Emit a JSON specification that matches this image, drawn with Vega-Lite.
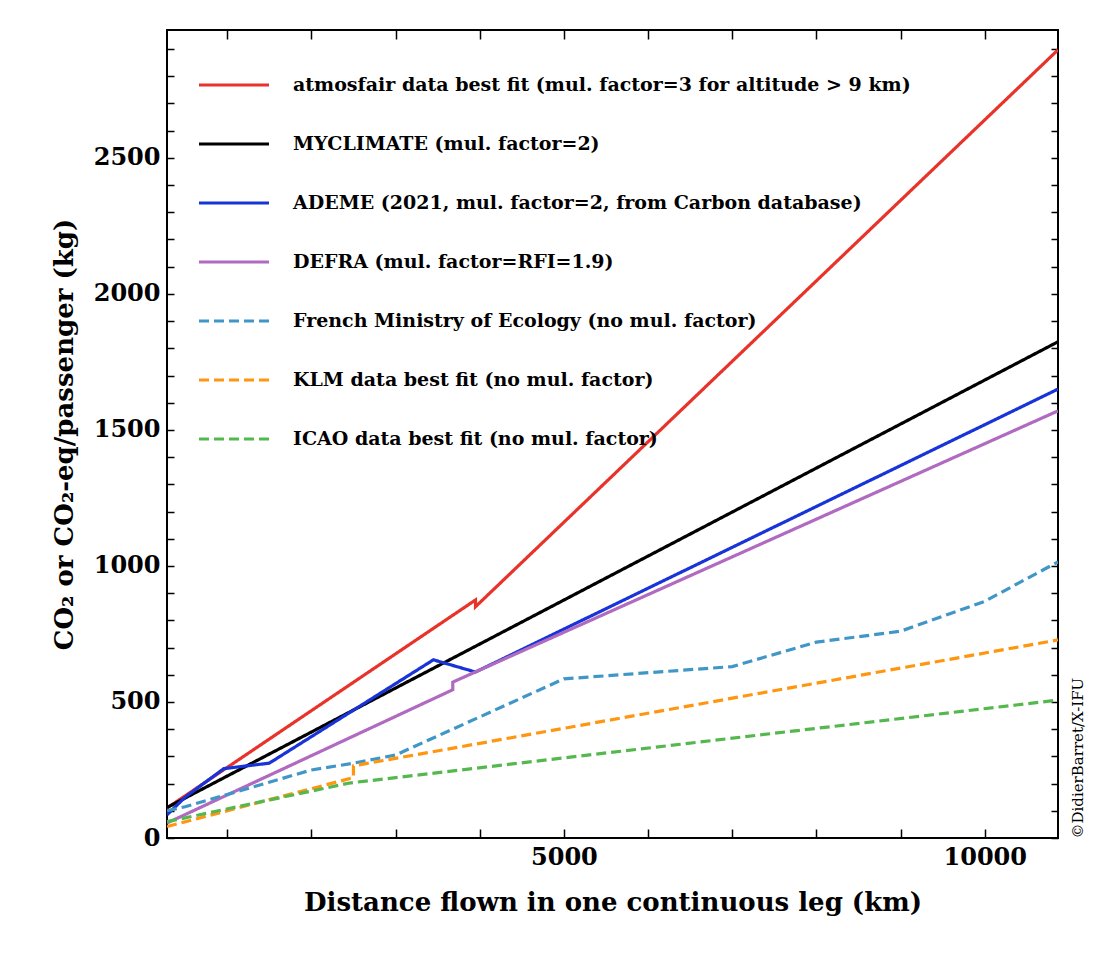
{
  "$schema": "https://vega.github.io/schema/vega-lite/v6.json",
  "width": 891,
  "height": 808,
  "autosize": "none",
  "padding": {"left": 167, "top": 30, "right": 50, "bottom": 122},
  "resolve": {"axis": {"x": "independent", "y": "independent"}},
  "config": {
    "font": "DejaVu Serif",
    "view": {"stroke": "black", "strokeWidth": 2},
    "axis": {"labelFont": "DejaVu Serif", "labelFontWeight": "bold", "labelFontSize": 24, "titleFont": "DejaVu Serif", "titleFontWeight": "bold", "titleFontSize": 26, "grid": false, "domain": false, "tickColor": "black", "tickWidth": 1.5, "labelColor": "black", "titleColor": "black"}
  },
  "data": {"values": [
    {"s": "atmosfair data best fit (mul. factor=3 for altitude > 9 km)", "i": 1, "d": 285, "v": 110},
    {"s": "atmosfair data best fit (mul. factor=3 for altitude > 9 km)", "i": 2, "d": 3950, "v": 875},
    {"s": "atmosfair data best fit (mul. factor=3 for altitude > 9 km)", "i": 3, "d": 3950, "v": 850},
    {"s": "atmosfair data best fit (mul. factor=3 for altitude > 9 km)", "i": 4, "d": 10870, "v": 2897},
    {"s": "MYCLIMATE (mul. factor=2)", "i": 1, "d": 285, "v": 112},
    {"s": "MYCLIMATE (mul. factor=2)", "i": 2, "d": 10870, "v": 1824},
    {"s": "ADEME (2021, mul. factor=2, from Carbon database)", "i": 1, "d": 285, "v": 85},
    {"s": "ADEME (2021, mul. factor=2, from Carbon database)", "i": 2, "d": 500, "v": 150},
    {"s": "ADEME (2021, mul. factor=2, from Carbon database)", "i": 3, "d": 960, "v": 255},
    {"s": "ADEME (2021, mul. factor=2, from Carbon database)", "i": 4, "d": 1500, "v": 275},
    {"s": "ADEME (2021, mul. factor=2, from Carbon database)", "i": 5, "d": 3450, "v": 655},
    {"s": "ADEME (2021, mul. factor=2, from Carbon database)", "i": 6, "d": 3950, "v": 610},
    {"s": "ADEME (2021, mul. factor=2, from Carbon database)", "i": 7, "d": 10870, "v": 1650},
    {"s": "DEFRA (mul. factor=RFI=1.9)", "i": 1, "d": 285, "v": 55},
    {"s": "DEFRA (mul. factor=RFI=1.9)", "i": 2, "d": 3680, "v": 545},
    {"s": "DEFRA (mul. factor=RFI=1.9)", "i": 3, "d": 3680, "v": 573},
    {"s": "DEFRA (mul. factor=RFI=1.9)", "i": 4, "d": 10870, "v": 1570},
    {"s": "French Ministry of Ecology (no mul. factor)", "i": 1, "d": 285, "v": 100},
    {"s": "French Ministry of Ecology (no mul. factor)", "i": 2, "d": 500, "v": 115},
    {"s": "French Ministry of Ecology (no mul. factor)", "i": 3, "d": 1000, "v": 160},
    {"s": "French Ministry of Ecology (no mul. factor)", "i": 4, "d": 1500, "v": 205},
    {"s": "French Ministry of Ecology (no mul. factor)", "i": 5, "d": 2000, "v": 250},
    {"s": "French Ministry of Ecology (no mul. factor)", "i": 6, "d": 2500, "v": 275},
    {"s": "French Ministry of Ecology (no mul. factor)", "i": 7, "d": 3000, "v": 305},
    {"s": "French Ministry of Ecology (no mul. factor)", "i": 8, "d": 4000, "v": 445},
    {"s": "French Ministry of Ecology (no mul. factor)", "i": 9, "d": 5000, "v": 585},
    {"s": "French Ministry of Ecology (no mul. factor)", "i": 10, "d": 7000, "v": 630},
    {"s": "French Ministry of Ecology (no mul. factor)", "i": 11, "d": 8000, "v": 720},
    {"s": "French Ministry of Ecology (no mul. factor)", "i": 12, "d": 9000, "v": 760},
    {"s": "French Ministry of Ecology (no mul. factor)", "i": 13, "d": 10000, "v": 870},
    {"s": "French Ministry of Ecology (no mul. factor)", "i": 14, "d": 10870, "v": 1015},
    {"s": "KLM data best fit (no mul. factor)", "i": 1, "d": 285, "v": 42},
    {"s": "KLM data best fit (no mul. factor)", "i": 2, "d": 2500, "v": 222},
    {"s": "KLM data best fit (no mul. factor)", "i": 3, "d": 2500, "v": 265},
    {"s": "KLM data best fit (no mul. factor)", "i": 4, "d": 10870, "v": 728},
    {"s": "ICAO data best fit (no mul. factor)", "i": 1, "d": 285, "v": 60},
    {"s": "ICAO data best fit (no mul. factor)", "i": 2, "d": 2450, "v": 202},
    {"s": "ICAO data best fit (no mul. factor)", "i": 3, "d": 10870, "v": 507}
  ]},
  "layer": [
    {
      "mark": {"type": "line", "strokeWidth": 3.2, "clip": true},
      "encoding": {
        "x": {"field": "d", "type": "quantitative", "scale": {"domain": [285, 10870], "nice": false, "zero": false},
          "title": "Distance flown in one continuous leg (km)",
          "axis": {"orient": "bottom", "values": [1000, 2000, 3000, 4000, 5000, 6000, 7000, 8000, 9000, 10000], "labelExpr": "datum.value % 5000 == 0 ? datum.value : ''", "tickSize": -9, "labelPadding": 16, "titlePadding": 20}},
        "y": {"field": "v", "type": "quantitative", "scale": {"domain": [0, 2970], "nice": false},
          "title": "CO₂ or CO₂-eq/passenger (kg)",
          "axis": {"orient": "left", "values": [0,100,200,300,400,500,600,700,800,900,1000,1100,1200,1300,1400,1500,1600,1700,1800,1900,2000,2100,2200,2300,2400,2500,2600,2700,2800,2900], "labelExpr": "datum.value % 500 == 0 ? datum.value : ''", "tickSize": -7, "labelPadding": 14, "titlePadding": 16}},
        "order": {"field": "i", "type": "quantitative"},
        "color": {"field": "s", "type": "nominal", "title": null,
          "scale": {"domain": ["atmosfair data best fit (mul. factor=3 for altitude > 9 km)", "MYCLIMATE (mul. factor=2)", "ADEME (2021, mul. factor=2, from Carbon database)", "DEFRA (mul. factor=RFI=1.9)", "French Ministry of Ecology (no mul. factor)", "KLM data best fit (no mul. factor)", "ICAO data best fit (no mul. factor)"],
            "range": ["#e8332a", "#000000", "#1834d8", "#b06ac0", "#4196c8", "#ff9610", "#55b84f"]},
          "legend": {"orient": "none", "legendX": 30, "legendY": 18, "symbolType": "stroke", "symbolStrokeWidth": 3.2, "symbolSize": 4900, "labelFont": "DejaVu Serif", "labelFontWeight": "bold", "labelFontSize": 19, "labelLimit": 900, "rowPadding": 12, "labelOffset": 22}},
        "strokeDash": {"field": "s", "type": "nominal", "title": null,
          "scale": {"domain": ["atmosfair data best fit (mul. factor=3 for altitude > 9 km)", "MYCLIMATE (mul. factor=2)", "ADEME (2021, mul. factor=2, from Carbon database)", "DEFRA (mul. factor=RFI=1.9)", "French Ministry of Ecology (no mul. factor)", "KLM data best fit (no mul. factor)", "ICAO data best fit (no mul. factor)"],
            "range": [[1, 0], [1, 0], [1, 0], [1, 0], [10, 5], [10, 5], [10, 5]]}}
      }
    },
    {
      "mark": {"type": "point", "opacity": 0},
      "encoding": {
        "x": {"field": "d", "type": "quantitative", "axis": {"orient": "top", "values": [1000, 2000, 3000, 4000, 5000, 6000, 7000, 8000, 9000, 10000], "labels": false, "tickSize": -9, "title": null}},
        "y": {"field": "v", "type": "quantitative", "axis": {"orient": "right", "values": [0,100,200,300,400,500,600,700,800,900,1000,1100,1200,1300,1400,1500,1600,1700,1800,1900,2000,2100,2200,2300,2400,2500,2600,2700,2800,2900], "labels": false, "tickSize": -7, "title": "©DidierBarret/X-IFU", "titleAngle": 270, "titleFontSize": 15, "titleFontWeight": "normal", "titleAlign": "left", "titleAnchor": "start", "titlePadding": 12, "titleBaseline": "top"}}
      }
    }
  ]
}
